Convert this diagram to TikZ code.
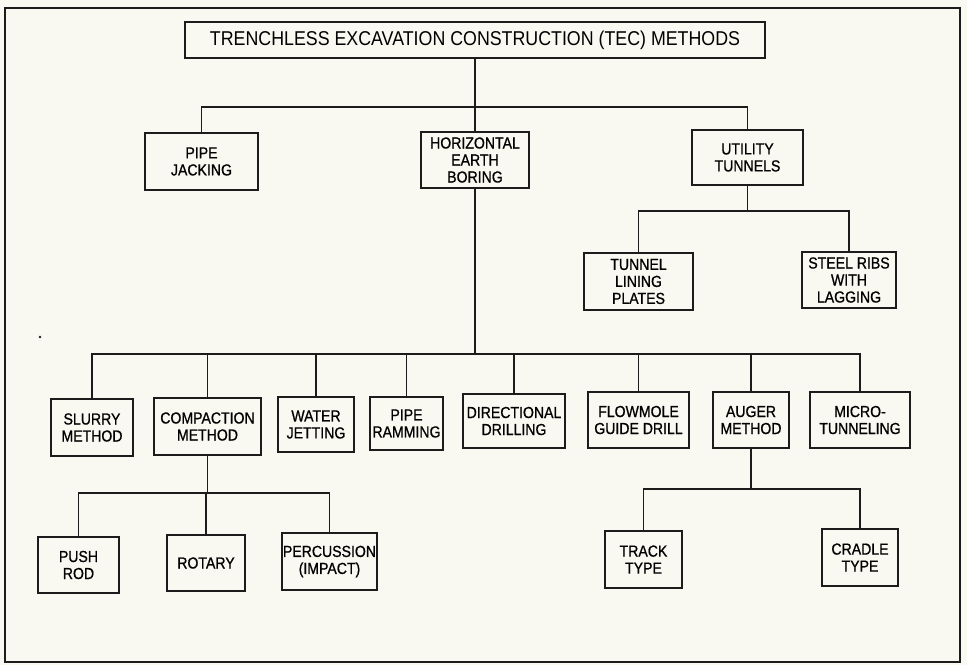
\documentclass[tikz,border=0pt]{standalone}
\usepackage{fontspec}
\newfontfamily\titlefont{Liberation Sans}[FakeStretch=0.89]
\newfontfamily\boxfont{Liberation Sans}[FakeStretch=0.88,FakeBold=0.8]
\definecolor{paper}{RGB}{250,249,241}
\definecolor{ink}{RGB}{28,28,28}

\begin{document}
\begin{tikzpicture}[x=0.75pt,y=-0.75pt,
  box/.style={draw=ink,line width=1.6pt,align=center,inner sep=1pt,minimum height=42,font=\boxfont\fontsize{12}{12.75}\selectfont},
  link/.style={ink,line width=1.35pt}]
  \fill[paper] (0,0) rectangle (967,665);
  \draw[ink,line width=1.3pt] (5,8) rectangle (960,662);
  \fill[ink] (40,337) circle (1.3);

  \node[box,minimum width=435,minimum height=27,font=\titlefont\fontsize{15}{18}\selectfont] (title) at (475,40) {TRENCHLESS EXCAVATION CONSTRUCTION (TEC) METHODS};

  \node[box,minimum width=85,minimum height=43] (pipe) at (201.5,161.5) {PIPE\\JACKING};
  \node[box,minimum width=81] (heb) at (475,160) {HORIZONTAL\\EARTH\\BORING};
  \node[box,minimum width=83,minimum height=41] (util) at (747.5,157.5) {UTILITY\\TUNNELS};
  \node[box,minimum width=82,minimum height=43] (lining) at (638.5,281.5) {TUNNEL\\LINING\\PLATES};
  \node[box,minimum width=70] (ribs) at (849,280) {STEEL RIBS\\WITH\\LAGGING};

  \node[box,minimum width=61.5,minimum height=43] (slurry) at (92,427.5) {SLURRY\\METHOD};
  \node[box,minimum width=80,minimum height=43] (compact) at (207.5,426.5) {COMPACTION\\METHOD};
  \node[box,minimum width=57,minimum height=41] (water) at (316,424.5) {WATER\\JETTING};
  \node[box,minimum width=55,minimum height=40] (ram) at (406.5,423.5) {PIPE\\RAMMING};
  \node[box,minimum width=76.5,minimum height=40.5] (direct) at (514,421) {DIRECTIONAL\\DRILLING};
  \node[box,minimum width=76] (flow) at (638.5,420) {FLOWMOLE\\GUIDE DRILL};
  \node[box,minimum width=57] (auger) at (751,420) {AUGER\\METHOD};
  \node[box,minimum width=75] (micro) at (860,420) {MICRO-\\TUNNELING};

  \node[box,minimum width=61] (push) at (78.5,565) {PUSH\\ROD};
  \node[box,minimum width=58.5] (rotary) at (206,563) {ROTARY};
  \node[box,minimum width=68,minimum height=43] (perc) at (329.5,561.5) {PERCUSSION\\(IMPACT)};
  \node[box,minimum width=58,minimum height=43] (track) at (643.5,559.5) {TRACK\\TYPE};
  \node[box,minimum width=57,minimum height=43] (cradle) at (860,557.5) {CRADLE\\TYPE};

  \coordinate (b1) at (0,107);
  \coordinate (b2) at (0,211);
  \coordinate (b3) at (0,354);
  \coordinate (b4) at (0,493);
  \coordinate (b5) at (0,489);

  \draw[link] (title.south) -- (heb.north);
  \draw[link] (pipe.north) |- (b1 -| util.north) -- (util.north);
  \draw[link] (util.south) -- (util.south |- b2);
  \draw[link] (lining.north) |- (b2 -| ribs.north) -- (ribs.north);

  \draw[link] (heb.south) -- (heb.south |- b3);
  \draw[link] (slurry.north) |- (b3 -| micro.north) -- (micro.north);
  \foreach \n in {compact,water,ram,direct,flow,auger}
    \draw[link] (\n.north) -- (\n.north |- b3);

  \draw[link] (compact.south) -- (compact.south |- b4);
  \draw[link] (push.north) |- (b4 -| perc.north) -- (perc.north);
  \draw[link] (rotary.north) -- (rotary.north |- b4);

  \draw[link] (auger.south) -- (auger.south |- b5);
  \draw[link] (track.north) |- (b5 -| cradle.north) -- (cradle.north);
\end{tikzpicture}
\end{document}
